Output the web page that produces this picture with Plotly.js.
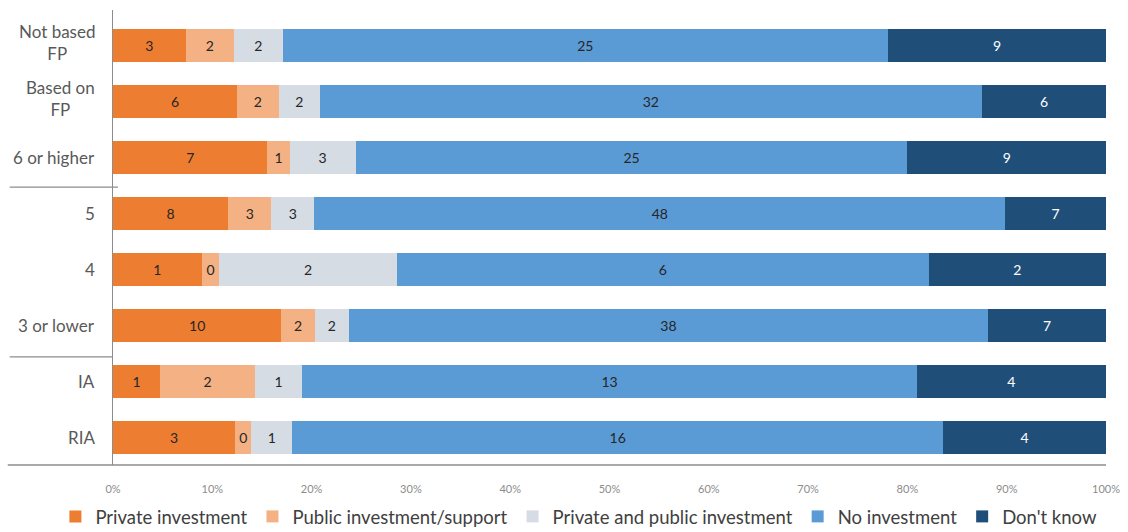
<!DOCTYPE html>
<html>
<head>
<meta charset="utf-8">
<script src="https://cdn.plot.ly/plotly-3.0.1.min.js"></script>
<style>html,body{margin:0;padding:0;background:#fff;}#chart{width:1128px;height:532px;}</style>
</head>
<body>
<div id="chart"></div>
<script>
// Categories (top to bottom)
const categories = ["Not based FP", "Based on FP", "6 or higher", "5", "4", "3 or lower", "IA", "RIA"];
const categoryLabels = ["Not based<br>FP", "Based on<br>FP", "6 or higher", "5", "4", "3 or lower", "IA", "RIA"];

// Series values (counts; "0" segments are tiny slivers)
const privateInvestment = [3, 6, 7, 8, 1, 10, 1, 3];
const publicInvestment = [2, 2, 1, 3, 0.2, 2, 2, 0.4];
const privateAndPublic = [2, 2, 3, 3, 2, 2, 1, 1];
const noInvestment = [25, 32, 25, 48, 6, 38, 13, 16];
const dontKnow = [9, 6, 9, 7, 2, 7, 4, 4];

const seriesNames = ["Private investment", "Public investment/support", "Private and public investment", "No investment", "Don't know"];
const seriesValues = [privateInvestment, publicInvestment, privateAndPublic, noInvestment, dontKnow];
const seriesColors = ["#ED7D31", "#F4B183", "#D6DCE4", "#5B9BD5", "#1F4E79"];
const labelColors = ["#262626", "#262626", "#262626", "#262626", "#FFFFFF"];

const xTicks = [0, 10, 20, 30, 40, 50, 60, 70, 80, 90, 100];
const xTickLabels = ["0%", "10%", "20%", "30%", "40%", "50%", "60%", "70%", "80%", "90%", "100%"];

const FONT = "Lato, 'Open Sans', sans-serif";

const traces = seriesNames.map((name, i) => ({
  type: "bar",
  orientation: "h",
  name: name,
  y: categories,
  x: seriesValues[i],
  text: seriesValues[i].map(v => String(Math.round(v))),
  texttemplate: "%{text}",
  textposition: "inside",
  insidetextanchor: "middle",
  constraintext: "none",
  textangle: 0,
  textfont: {family: FONT, size: 14, color: labelColors[i]},
  marker: {color: seriesColors[i], line: {width: 0}},
  hoverinfo: "skip"
}));

const annotations = categories.map((c, i) => ({
  xref: "paper", yref: "y",
  x: -0.016, y: i,
  xanchor: "right", yanchor: "middle",
  align: "center",
  yshift: categoryLabels[i].indexOf("<br>") >= 0 ? 3 : 0,
  text: categoryLabels[i],
  showarrow: false,
  font: {family: FONT, size: 17, color: "#595959"}
}));

const shapes = [
  // bottom axis line extending left of the plot
  {type: "line", xref: "paper", yref: "paper", x0: -0.106, x1: 1, y0: 0, y1: 0,
   line: {color: "#8C8C8C", width: 1.5}},
  // group separators
  {type: "line", xref: "paper", yref: "y", x0: -0.104, x1: 0.005, y0: 2.53, y1: 2.53,
   line: {color: "#8C8C8C", width: 1.2}},
  {type: "line", xref: "paper", yref: "y", x0: -0.104, x1: 0, y0: 5.56, y1: 5.56,
   line: {color: "#8C8C8C", width: 1.2}}
];

const layout = {
  width: 1128, height: 532,
  margin: {l: 113, r: 22, t: 10, b: 67, autoexpand: false},
  paper_bgcolor: "#FFFFFF",
  plot_bgcolor: "#FFFFFF",
  barmode: "stack",
  barnorm: "percent",
  bargap: 0.41,
  showlegend: true,
  legend: {
    orientation: "h",
    x: -0.058, xanchor: "left",
    y: -0.114, yanchor: "middle",
    font: {family: FONT, size: 18.5, color: "#404040"},
    traceorder: "normal",
    itemwidth: 30,
    bgcolor: "rgba(0,0,0,0)"
  },
  xaxis: {
    range: [0, 100],
    tickvals: xTicks,
    ticktext: xTickLabels,
    showgrid: false,
    zeroline: false,
    showline: false,
    ticks: "",
    ticklabelstandoff: 16,
    tickfont: {family: FONT, size: 11, color: "#8C8C8C"},
    fixedrange: true
  },
  yaxis: {
    type: "category",
    categoryorder: "array",
    categoryarray: categories,
    range: [7.49, -0.63],
    showticklabels: false,
    showgrid: false,
    zeroline: false,
    showline: true,
    linecolor: "#8C8C8C",
    linewidth: 1.2,
    ticks: "",
    fixedrange: true
  },
  annotations: annotations,
  shapes: shapes
};

Plotly.newPlot("chart", traces, layout, {displayModeBar: false, staticPlot: true});
</script>
</body>
</html>
